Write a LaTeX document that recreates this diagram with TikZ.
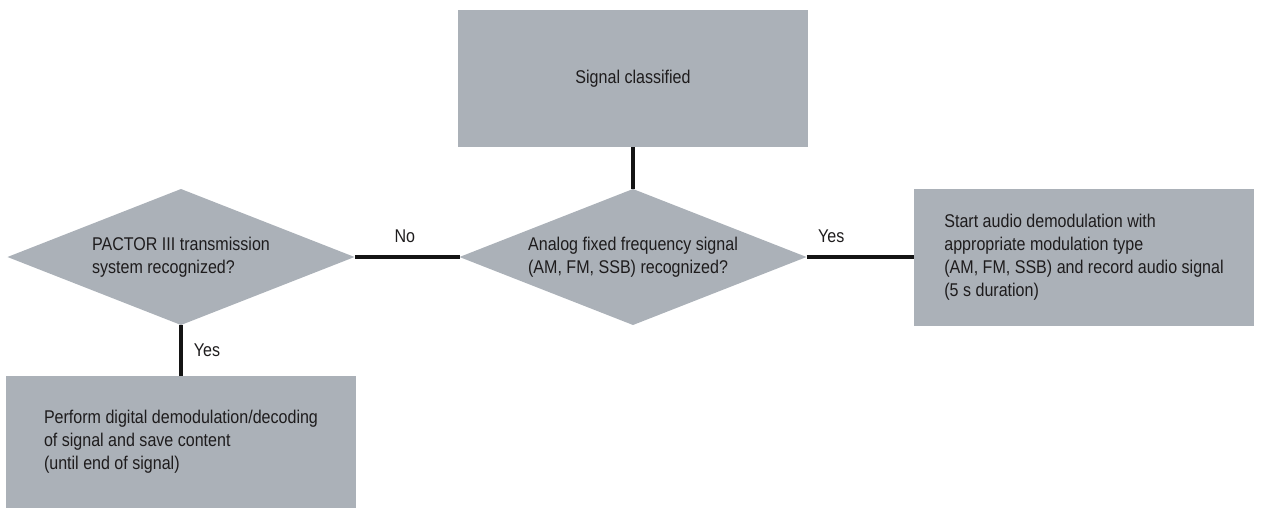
\documentclass[tikz,border=0pt]{standalone}
\usepackage{fontspec}
\setmainfont[FakeStretch=0.87]{Liberation Sans}
\usetikzlibrary{shapes.geometric}
\definecolor{box_gray}{RGB}{171,177,184}
\definecolor{text_dark}{RGB}{30,28,29}
\definecolor{edge_black}{RGB}{20,20,20}

\begin{document}
\begin{tikzpicture}[-,line width=0.08cm]
    \tikzstyle{block}=[rectangle, draw=none, fill=box_gray, text=text_dark, align=left, outer sep=0pt, font=\fontsize{10.5}{13}\selectfont, minimum width=7.0cm, minimum height=2.74cm]
    \tikzstyle{decide}=[style=block, diamond, aspect=2.55, inner sep=0pt, minimum width=6.94cm, minimum height=2.72cm]
    \tikzstyle{lbl}=[text=text_dark, font=\fontsize{10.5}{13}\selectfont]

    \useasboundingbox (0,0) rectangle (25.28,10.18);

    \node[block] (cls)      at (12.66,8.61) {Signal classified};
    \node[decide] (analog)  at (12.66,5.04) {Analog fixed frequency signal\\(AM, FM, SSB) recognized?};
    \node[decide] (pactor)  at (3.62,5.04)  {PACTOR III transmission\\system recognized?};
    \node[block, minimum width=6.8cm] (audio) at (21.68,5.04) {Start audio demodulation with\\appropriate modulation type\\(AM, FM, SSB) and record audio signal\\(5 s duration)};
    \node[block, minimum height=2.64cm] (digital) at (3.62,1.34) {Perform digital demodulation/decoding\\of signal and save content\\(until end of signal)};
%     \node[lbl] (hint) at (8.2,5.5) {No};
    \path
     (cls)    edge[edge_black] (analog)
     (analog) edge[edge_black] node[lbl, pos=0.23, above=0.12cm] {Yes} (audio)
     (analog) edge[edge_black] node[lbl, pos=0.52, above=0.12cm] {No} (pactor)
     (pactor) edge[edge_black] node[lbl, right=0.1cm] {Yes} (digital)
     ;
\end{tikzpicture}
\end{document}
